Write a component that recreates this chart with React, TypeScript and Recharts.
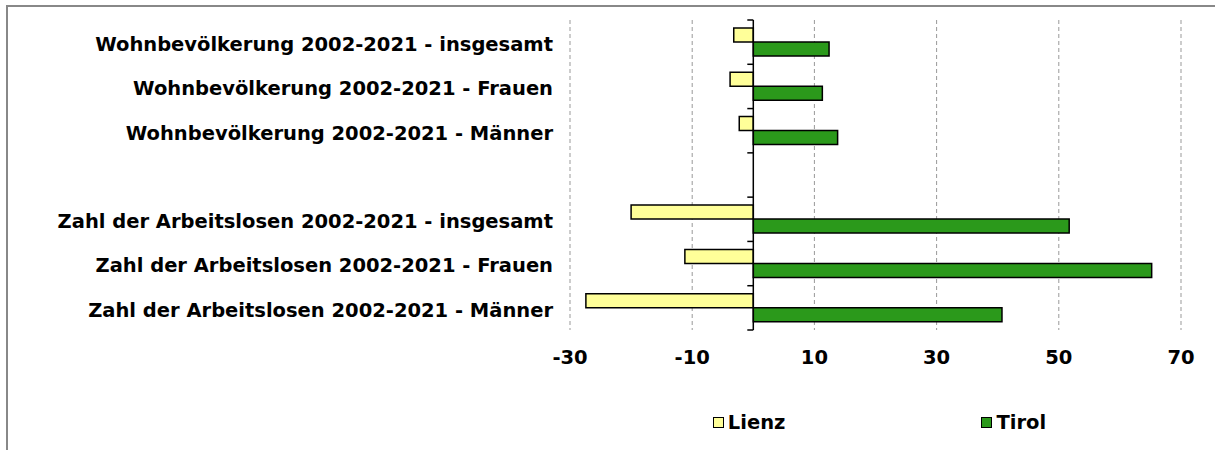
import React from "react";
import { BarChart, Bar, XAxis, YAxis, CartesianGrid, ReferenceLine, Legend } from "recharts";

const categories = [
  "Wohnbevölkerung 2002-2021 - insgesamt",
  "Wohnbevölkerung 2002-2021 - Frauen",
  "Wohnbevölkerung 2002-2021 - Männer",
  " ",
  "Zahl der Arbeitslosen 2002-2021 - insgesamt",
  "Zahl der Arbeitslosen 2002-2021 - Frauen",
  "Zahl der Arbeitslosen 2002-2021 - Männer",
];
const lienz = [-3.2, -3.8, -2.3, null, -20.0, -11.2, -27.4];
const tirol = [12.4, 11.3, 13.8, null, 51.7, 65.2, 40.7];
const xTicks = [-30, -10, 10, 30, 50, 70];
const seriesNames = ["Lienz", "Tirol"];
const seriesColors = ["#ffff99", "#2b991b"];

const data = categories.map((c, i) => ({ name: c, Lienz: lienz[i], Tirol: tirol[i] }));

const FONT = "'DejaVu Sans', Verdana, sans-serif";

const ZeroAxis = (props: any) => {
  const { x1, y1, y2 } = props;
  const n = categories.length;
  const h = (y2 - y1) / n;
  const ticks = [];
  for (let i = 0; i <= n; i++) {
    const y = y1 + i * h;
    ticks.push(<line key={i} x1={x1 - 6} x2={x1} y1={y} y2={y} stroke="#000" strokeWidth={1.5} />);
  }
  return (
    <g>
      <line x1={x1} x2={x1} y1={y1} y2={y2} stroke="#000" strokeWidth={1.5} />
      {ticks}
    </g>
  );
};

const LegendContent = () => (
  <div style={{ display: "flex", justifyContent: "center", alignItems: "center", height: 24, gap: 196, fontFamily: FONT, fontWeight: "bold", fontSize: 19.5, color: "#000" }}>
    {seriesNames.map((s, i) => (
      <div key={s} style={{ display: "flex", alignItems: "center" }}>
        <span style={{ display: "inline-block", width: 9, height: 9, border: "1.5px solid #000", background: seriesColors[i], marginRight: 4 }} />
        <span>{s}</span>
      </div>
    ))}
  </div>
);

export default function App() {
  return (
    <div style={{ position: "absolute", left: 0, top: 0, width: 1215, height: 450, background: "#fff" }}>
      <div style={{ position: "absolute", left: 6, top: 5, width: 1209, height: 445, borderTop: "2px solid #888", borderLeft: "2px solid #888" }} />
      <div style={{ position: "absolute", left: 0, top: 0 }}>
        <BarChart
          width={1215}
          height={450}
          data={data}
          layout="vertical"
          margin={{ top: 20, right: 34, bottom: 16, left: 0 }}
          barCategoryGap="18%"
          barGap={0}
        >
          <CartesianGrid horizontal={false} stroke="#999" strokeDasharray="4 3" />
          <XAxis
            type="number"
            domain={[-30, 70]}
            ticks={xTicks}
            axisLine={false}
            tickLine={false}
            tickMargin={14}
            height={80}
            tick={{ fill: "#000", fontSize: 19.5, fontWeight: "bold", fontFamily: FONT }}
          />
          <YAxis
            type="category"
            dataKey="name"
            width={570}
            axisLine={false}
            tickLine={false}
            tickMargin={11}
            interval={0}
            tick={{ fill: "#000", fontSize: 19.5, fontWeight: "bold", fontFamily: FONT, dy: 2 }}
          />
          <Bar dataKey="Lienz" fill={seriesColors[0]} stroke="#000" strokeWidth={1.5} isAnimationActive={false} />
          <Bar dataKey="Tirol" fill={seriesColors[1]} stroke="#000" strokeWidth={1.5} isAnimationActive={false} />
          <ReferenceLine x={0} shape={ZeroAxis} />
          <Legend verticalAlign="bottom" content={LegendContent} wrapperStyle={{ left: 574, width: 611, height: 24 }} />
        </BarChart>
      </div>
    </div>
  );
}
